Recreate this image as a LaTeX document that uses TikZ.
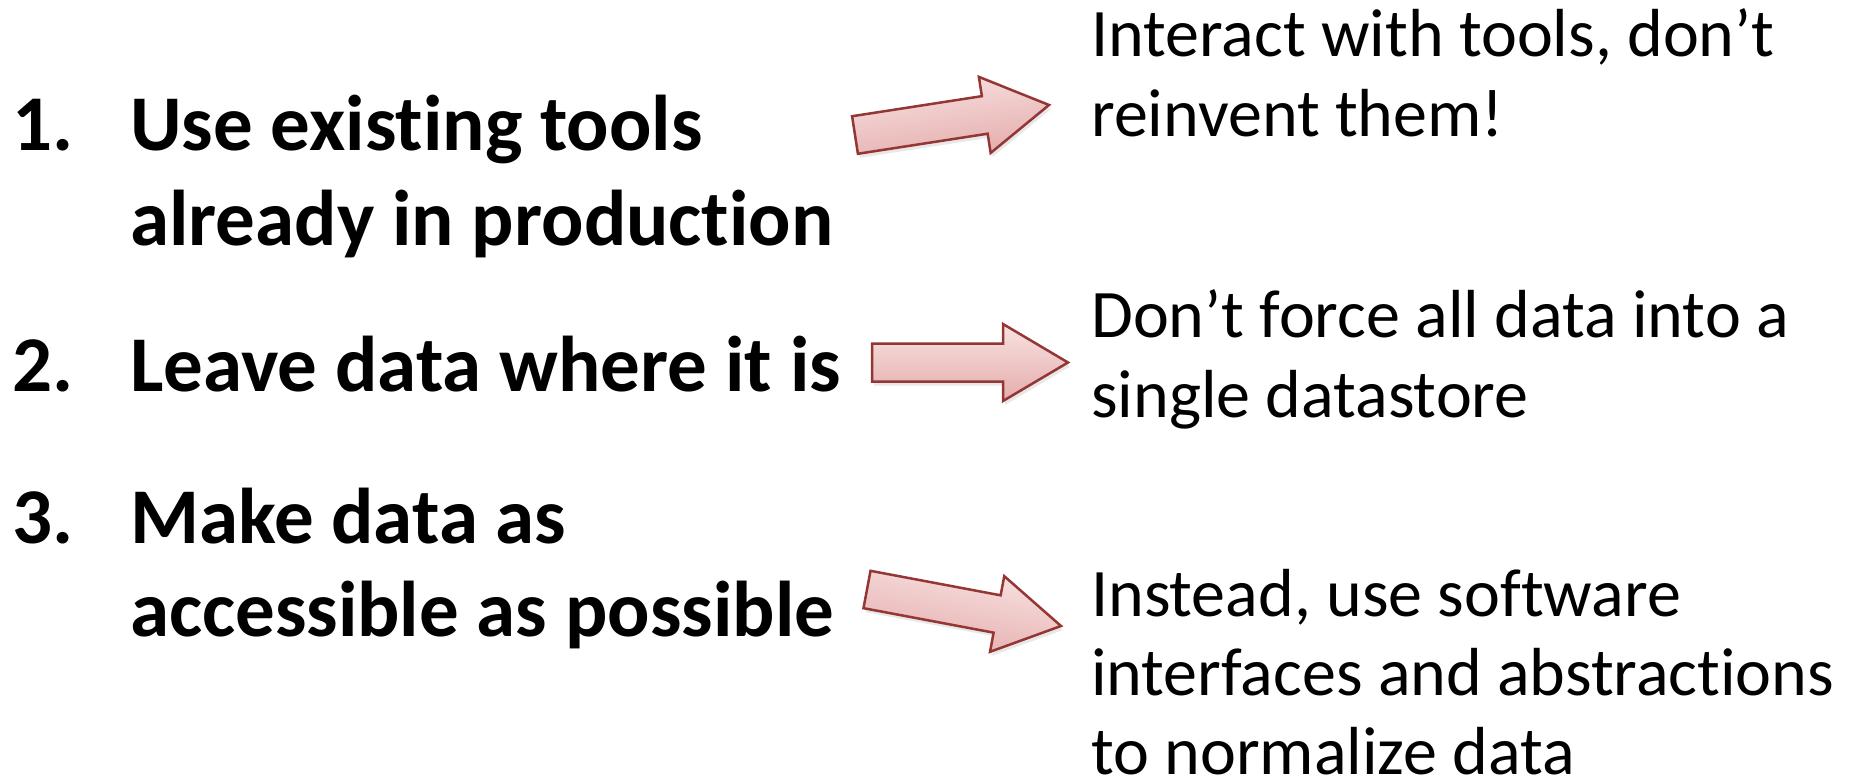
\documentclass[tikz,border=0pt]{standalone}
\usepackage{fontspec}
\setmainfont{Carlito}[Ligatures={TeX,CommonOff}]
\usetikzlibrary{calc,shadows}

\definecolor{arrowline}{RGB}{148,54,52}
\definecolor{arrowtop}{RGB}{248,226,226}
\definecolor{arrowbot}{RGB}{229,172,172}

% Block arrow from tail centre #1 to tip #2, shading turned by #3 degrees
\newcommand\blockarrow[3]{%
  \path ($(#2)!65pt!(#1)$) coordinate (hb);
  \draw[barrow, shading angle=#3]
    ($(#1)!19pt!90:(#2)$) -- ($(hb)!19pt!90:(#2)$) -- ($(hb)!38.5pt!90:(#2)$)
    -- (#2)
    -- ($(hb)!38.5pt!-90:(#2)$) -- ($(hb)!19pt!-90:(#2)$) -- ($(#1)!19pt!-90:(#2)$)
    -- cycle;}

\begin{document}
\begin{tikzpicture}[x=1pt,y=-1pt,
  point/.style={anchor=base west, inner sep=0pt,
    font=\fontsize{79}{95}\selectfont\bfseries},
  note/.style={anchor=base west, inner sep=0pt, text depth=0pt,
    font=\fontsize{68}{80}\selectfont},
  barrow/.style={draw=arrowline, line width=2.5pt, line join=miter,
    top color=arrowtop, bottom color=arrowbot,
    drop shadow={shadow xshift=2pt, shadow yshift=-4pt, opacity=0.18}}]

\useasboundingbox (0,0) rectangle (1856,781);

% left column: the three principles
\node[point] (n1)  at (12,151) {1.};
\node[point] (p1a) at (130,151) {Use existing tools};
\node[point] (p1b) at (130,245) {already in production};
\node[point] (n2)  at (12,391) {2.};
\node[point] (p2)  at (130,391) {Leave data where it is};
\node[point] (n3)  at (12,543) {3.};
\node[point] (p3a) at (130,543) {Make data as};
\node[point] (p3b) at (130,636) {accessible as possible};

% right column: what each principle means
\node[note] (c1a) at (1091,57)  {Interact with tools, don’t};
\node[note] (c1b) at (1091,137) {reinvent them!};
\node[note] (c2a) at (1091,337) {Don’t force all data into a};
\node[note] (c2b) at (1091,417) {single datastore};
\node[note] (c3a) at (1091,616) {Instead, use software};
\node[note] (c3b) at (1091,695) {interfaces and abstractions};
\node[note] (c3c) at (1091,774) {to normalize data};

% arrow ends
\coordinate (a1s) at (855,135);
\coordinate (a1e) at (1049,105);
\coordinate (a2s) at (872,362.5);
\coordinate (a2e) at (1068,362.5);
\coordinate (a3s) at (867,589.5);
\coordinate (a3e) at (1061,626);

\blockarrow{a1s}{a1e}{8.7}
\blockarrow{a2s}{a2e}{0}
\blockarrow{a3s}{a3e}{-10.7}
\end{tikzpicture}
\end{document}
